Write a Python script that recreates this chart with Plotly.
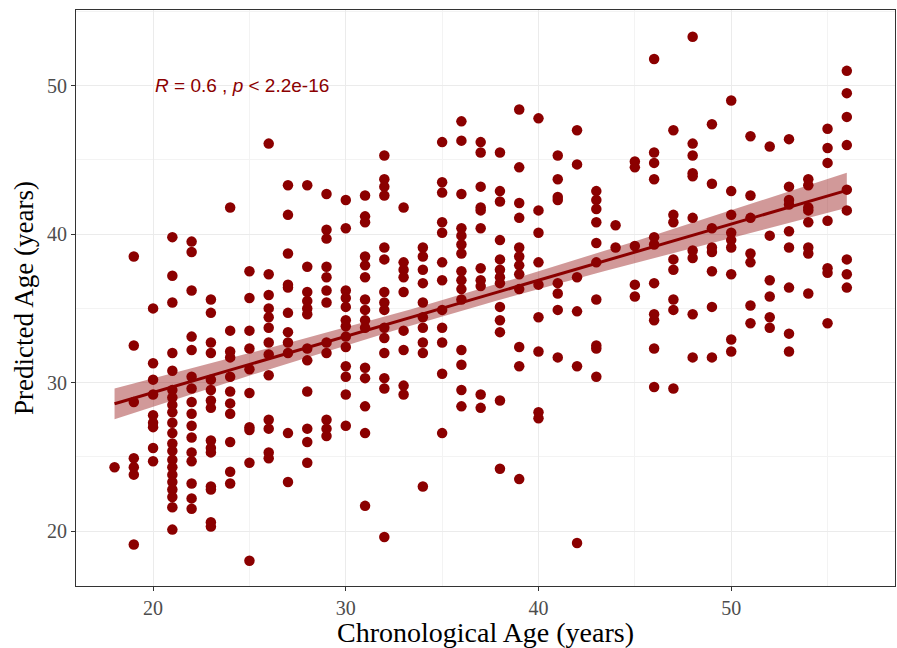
import numpy as np
import plotly.graph_objects as go

# Chronological ages (x) and the predicted ages observed at each of them (y)
ages = list(range(18, 57))
predicted_by_age = [
    [24.3],
    [38.5, 32.5, 28.7, 24.9, 24.3, 23.8, 19.1],
    [35.0, 31.3, 30.2, 29.2, 27.8, 27.3, 27.0, 25.6, 24.7],
    [39.8, 37.2, 35.4, 32.0, 30.8, 29.5, 29.0, 28.5, 28.0, 27.3, 26.6, 25.9, 25.4, 24.8, 24.3, 23.8, 23.3, 22.8, 22.3, 21.6, 20.1],
    [39.5, 38.8, 36.2, 33.1, 32.2, 30.4, 29.6, 28.7, 27.9, 27.1, 26.3, 25.3, 24.7, 23.2, 22.2, 21.5],
    [35.6, 34.7, 32.7, 32.0, 30.2, 29.5, 28.8, 28.3, 26.1, 25.6, 25.3, 23.0, 22.8, 20.6, 20.3],
    [41.8, 33.5, 32.1, 31.7, 30.4, 29.4, 28.6, 27.9, 26.0, 24.0, 23.2],
    [37.5, 35.7, 33.5, 32.3, 30.9, 29.3, 27.0, 26.8, 24.6, 18.0],
    [46.1, 37.3, 35.9, 35.0, 34.4, 33.7, 32.7, 31.9, 30.5, 27.5, 26.9, 25.3, 24.9],
    [43.3, 41.3, 38.7, 36.6, 36.4, 34.7, 33.4, 32.7, 32.0, 26.6, 23.3],
    [43.3, 37.8, 36.1, 35.5, 35.0, 34.6, 32.3, 31.5, 29.4, 26.9, 26.0, 24.6],
    [42.7, 40.3, 39.7, 37.8, 37.1, 36.2, 35.4, 32.7, 32.0, 27.5, 26.9, 26.4],
    [42.3, 40.4, 36.2, 35.7, 35.1, 34.2, 33.8, 33.1, 32.4, 31.1, 30.4, 29.2, 27.1],
    [42.6, 41.2, 40.8, 38.5, 37.9, 37.1, 35.6, 34.9, 34.2, 33.7, 31.0, 30.3, 28.4, 26.6, 21.7],
    [45.3, 43.7, 43.2, 42.6, 39.1, 38.3, 36.1, 35.4, 34.9, 33.7, 33.0, 32.0, 30.3, 29.6, 19.6],
    [41.8, 38.1, 37.6, 37.1, 36.1, 33.5, 32.2, 29.8, 29.2],
    [39.1, 38.5, 37.6, 36.7, 35.4, 34.4, 33.7, 32.7, 32.0, 23.0],
    [46.2, 43.5, 42.8, 40.8, 40.1, 38.1, 36.9, 34.9, 33.7, 32.7, 30.6, 26.6],
    [47.6, 46.3, 42.7, 40.4, 39.9, 39.3, 38.7, 37.5, 36.9, 36.3, 35.6, 32.2, 31.2, 29.5, 28.4],
    [46.2, 45.5, 43.2, 41.8, 41.6, 40.4, 37.7, 36.9, 36.5, 29.2, 28.3],
    [45.5, 42.9, 42.2, 39.6, 38.3, 37.6, 37.1, 36.7, 35.1, 34.2, 33.4, 28.8, 24.2],
    [48.4, 44.5, 42.1, 41.1, 39.1, 38.5, 37.9, 37.3, 36.3, 32.4, 31.1, 23.5],
    [47.8, 41.6, 40.1, 38.1, 36.6, 34.4, 32.1, 28.0, 27.6],
    [45.3, 43.7, 42.5, 42.3, 36.7, 36.0, 34.9, 31.7],
    [47.0, 44.7, 37.1, 34.8, 31.1, 19.2],
    [42.9, 42.3, 41.7, 40.8, 39.4, 38.1, 35.6, 32.5, 32.3, 30.4],
    [40.6, 39.1],
    [44.9, 44.5, 39.2, 36.6, 35.8],
    [51.8, 45.5, 44.8, 43.7, 39.8, 39.3, 36.7, 34.6, 34.2, 32.3, 29.7],
    [47.0, 41.3, 40.8, 38.3, 37.6, 35.6, 34.9, 29.6],
    [53.3, 46.1, 45.3, 44.1, 43.9, 41.1, 38.9, 38.4, 34.6, 31.7],
    [47.4, 43.4, 40.4, 39.1, 38.8, 37.5, 35.1, 31.7],
    [49.0, 42.9, 41.3, 40.1, 39.6, 39.1, 37.3, 32.9, 32.1],
    [46.6, 42.6, 41.1, 38.7, 38.1, 35.2, 34.0],
    [45.9, 39.9, 36.9, 35.8, 34.4, 33.7],
    [46.4, 43.2, 42.3, 42.0, 40.2, 39.1, 36.4, 33.3, 32.1],
    [43.7, 43.3, 41.8, 41.6, 40.8, 39.1, 38.7, 36.0],
    [47.1, 45.8, 44.8, 40.9, 37.7, 37.4, 34.0],
    [51.0, 49.5, 47.9, 46.0, 43.0, 41.6, 38.3, 37.3, 36.4],
]
annotation_text = "<i>R</i> = 0.6 , <i>p</i> &lt; 2.2e-16"
x_title = "Chronological Age (years)"
y_title = "Predicted Age (years)"

x = np.array([a for a, vals in zip(ages, predicted_by_age) for _ in vals], dtype=float)
y = np.array([v for vals in predicted_by_age for v in vals], dtype=float)

# linear fit with 95% confidence band
n = len(x)
slope, intercept = np.polyfit(x, y, 1)
resid = y - (slope * x + intercept)
s = np.sqrt(np.sum(resid ** 2) / (n - 2))
xbar = x.mean()
sxx = np.sum((x - xbar) ** 2)
xf = np.linspace(x.min(), x.max(), 80)
yf = slope * xf + intercept
se = s * np.sqrt(1.0 / n + (xf - xbar) ** 2 / sxx)
tval = 1.966
lo, hi = yf - tval * se, yf + tval * se

RED = "#8B0000"
fig = go.Figure()
fig.add_trace(go.Scatter(x=x, y=y, mode="markers",
                         marker=dict(color=RED, size=10.5, line=dict(width=0)),
                         hoverinfo="x+y", showlegend=False))
fig.add_trace(go.Scatter(x=np.concatenate([xf, xf[::-1]]),
                         y=np.concatenate([hi, lo[::-1]]),
                         fill="toself", fillcolor="rgba(139,0,0,0.4)",
                         line=dict(width=0), mode="lines",
                         hoverinfo="skip", showlegend=False))
fig.add_trace(go.Scatter(x=xf, y=yf, mode="lines",
                         line=dict(color=RED, width=3),
                         hoverinfo="skip", showlegend=False))

fig.add_annotation(x=20, y=50, xref="x", yref="y", text=annotation_text,
                   showarrow=False, xanchor="left", yanchor="middle",
                   font=dict(family="Liberation Sans", size=19, color=RED))

axis_common = dict(
    showline=True, linecolor="#333333", linewidth=1, mirror=True,
    showgrid=True, gridcolor="#EBEBEB", gridwidth=1.3,
    zeroline=False, ticks="outside", ticklen=4, tickcolor="#333333",
    tickfont=dict(family="Liberation Serif", size=20, color="#4D4D4D"),
    tick0=0, dtick=10,
    minor=dict(dtick=5, showgrid=True, gridcolor="#F3F3F3", gridwidth=0.8, ticks=""),
)
fig.update_xaxes(range=[16.0, 58.5], title_text=x_title, title_standoff=6,
                 title_font=dict(family="Liberation Serif", size=28, color="black"),
                 **axis_common)
fig.update_yaxes(range=[16.3, 55.1], title_text=y_title, title_standoff=5,
                 title_font=dict(family="Liberation Serif", size=27, color="black"),
                 **axis_common)

fig.update_layout(
    width=897, height=648,
    margin=dict(l=76, r=2, t=10, b=62),
    plot_bgcolor="white", paper_bgcolor="white",
)

fig.write_html("out.html")
